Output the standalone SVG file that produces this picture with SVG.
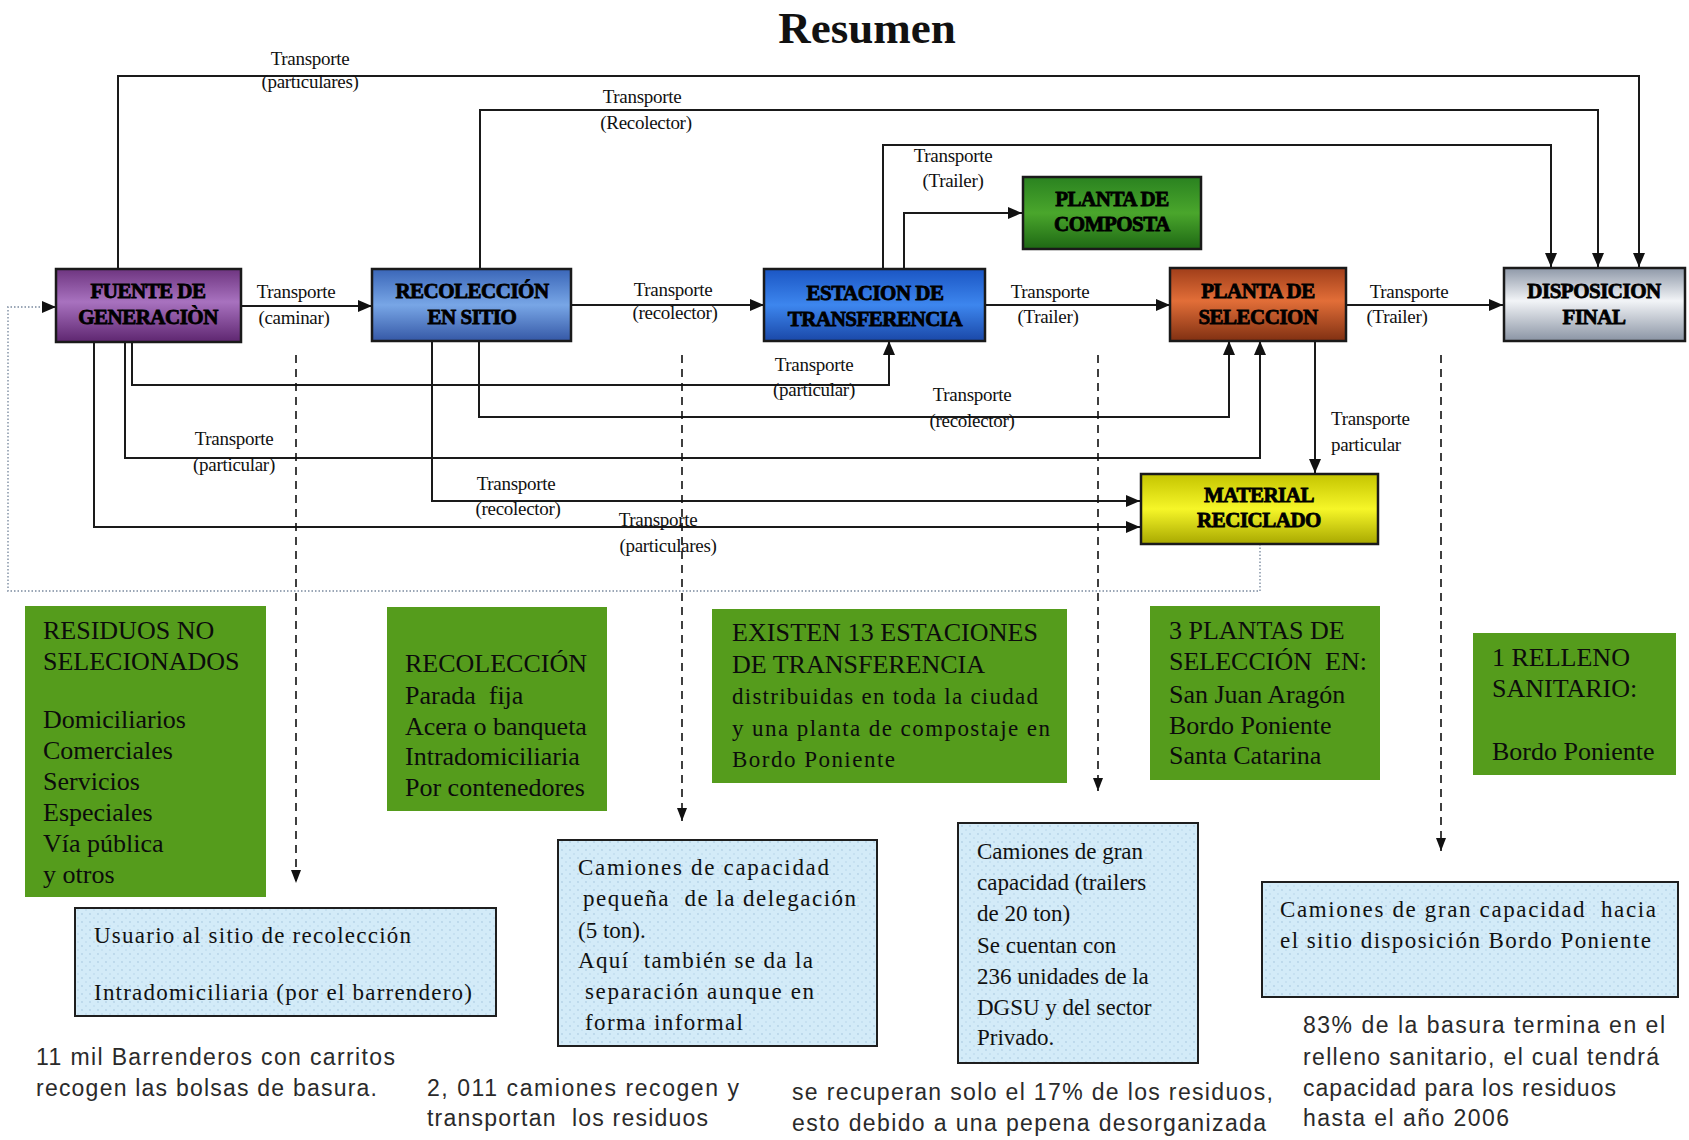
<svg xmlns="http://www.w3.org/2000/svg" width="1689" height="1140" viewBox="0 0 1689 1140" xml:space="preserve">
<style>
text{white-space:pre}
.title{font-family:"Liberation Serif",serif;font-weight:bold;font-size:45px;fill:#111;text-anchor:middle}
.node{stroke:#1a1a1a;stroke-width:2.5}
.nt{font-family:"Liberation Serif",serif;font-weight:bold;font-size:21px;fill:#000;stroke:#000;stroke-width:0.8;text-anchor:middle;letter-spacing:-0.5px}
.lbl{font-family:"Liberation Serif",serif;font-size:19px;fill:#111;text-anchor:middle;letter-spacing:-0.3px}
.lbll{font-family:"Liberation Serif",serif;font-size:19px;fill:#111;letter-spacing:-0.3px}
.conn{fill:none;stroke:#1a1a1a;stroke-width:2}
.dash{fill:none;stroke:#111;stroke-width:1.6;stroke-dasharray:8,6}
.dot{fill:none;stroke:#9aa6b6;stroke-width:1.8;stroke-dasharray:1.5,2}
.gbox{fill:#559c1c}
.gt{font-family:"Liberation Serif",serif;font-size:26px;fill:#0c0c0c}
.gts{font-family:"Liberation Serif",serif;font-size:23px;fill:#0c0c0c}
.bbox{fill:url(#bluedots);stroke:#1e1e1e;stroke-width:2}
.bt{font-family:"Liberation Serif",serif;font-size:23px;fill:#111}
.st{font-family:"Liberation Sans",Arial,sans-serif;font-size:23px;fill:#2a2a2a}
</style>
<defs>
<marker id="ah" viewBox="0 0 14 12" refX="14" refY="6" markerWidth="14" markerHeight="12" markerUnits="userSpaceOnUse" orient="auto"><path d="M0,0 L14,6 L0,12 z" fill="#111"/></marker>
<marker id="ahs" viewBox="0 0 13 10" refX="13" refY="5" markerWidth="13" markerHeight="10" markerUnits="userSpaceOnUse" orient="auto"><path d="M0,0 L13,5 L0,10 z" fill="#111"/></marker>
<linearGradient id="gPurple" x1="0" y1="0" x2="0" y2="1"><stop offset="0" stop-color="#6e3580"/><stop offset="0.45" stop-color="#a872bf"/><stop offset="1" stop-color="#5e2670"/></linearGradient>
<linearGradient id="gBlue1" x1="0" y1="0" x2="0" y2="1"><stop offset="0" stop-color="#3a66b8"/><stop offset="0.5" stop-color="#78a6e6"/><stop offset="1" stop-color="#3558a6"/></linearGradient>
<linearGradient id="gBlue2" x1="0" y1="0" x2="0" y2="1"><stop offset="0" stop-color="#1b56c4"/><stop offset="0.5" stop-color="#3d86ee"/><stop offset="1" stop-color="#1a48a8"/></linearGradient>
<linearGradient id="gGreen" x1="0" y1="0" x2="0" y2="1"><stop offset="0" stop-color="#2a8220"/><stop offset="0.5" stop-color="#4aa62c"/><stop offset="1" stop-color="#1e6814"/></linearGradient>
<linearGradient id="gOrange" x1="0" y1="0" x2="0" y2="1"><stop offset="0" stop-color="#a03e1a"/><stop offset="0.45" stop-color="#e26e38"/><stop offset="1" stop-color="#803012"/></linearGradient>
<linearGradient id="gGray" x1="0" y1="0" x2="0" y2="1"><stop offset="0" stop-color="#8e98a8"/><stop offset="0.45" stop-color="#f2f4f7"/><stop offset="1" stop-color="#8a94a4"/></linearGradient>
<linearGradient id="gYellow" x1="0" y1="0" x2="0" y2="1"><stop offset="0" stop-color="#c4c400"/><stop offset="0.5" stop-color="#f6f628"/><stop offset="1" stop-color="#a8a800"/></linearGradient>
<pattern id="bluedots" width="8" height="8" patternUnits="userSpaceOnUse"><rect width="8" height="8" fill="#d3ebf8"/><circle cx="2" cy="2" r="0.9" fill="#b4d2e6"/><circle cx="6" cy="6" r="0.9" fill="#c0dcee"/></pattern>
</defs>
<rect width="1689" height="1140" fill="#ffffff"/>
<text class="title" x="867" y="43">Resumen</text>

<g id="connectors">
<path class="dot" d="M1260,544 V591 H8 V307 H42"/>
<path d="M42,307 L56,307" fill="none" stroke="#111" stroke-width="1.5" marker-end="url(#ah)"/>
<path class="conn" d="M118,269 V76 H1639 V267" marker-end="url(#ah)"/>
<path class="conn" d="M480,269 V110 H1598 V267" marker-end="url(#ah)"/>
<path class="conn" d="M883,269 V145 H1551 V267" stroke="#3a4450" marker-end="url(#ah)"/>
<path class="conn" d="M904,269 V213 H1022" marker-end="url(#ah)"/>
<path class="conn" d="M241,306 H372" marker-end="url(#ah)"/>
<path class="conn" d="M571,305 H764" marker-end="url(#ah)"/>
<path class="conn" d="M985,305 H1170" marker-end="url(#ah)"/>
<path class="conn" d="M1346,305 H1503" marker-end="url(#ah)"/>
<path class="conn" d="M132,342 V385 H889 V341" marker-end="url(#ah)"/>
<path class="conn" d="M479,341 V417 H1229 V341" marker-end="url(#ah)"/>
<path class="conn" d="M125,342 V458 H1260 V341" marker-end="url(#ah)"/>
<path class="conn" d="M432,341 V501 H1140" marker-end="url(#ah)"/>
<path class="conn" d="M94,342 V527 H1140" marker-end="url(#ah)"/>
<path class="conn" d="M1315,341 V473" marker-end="url(#ah)"/>
<path class="dash" d="M296,355 V883" marker-end="url(#ahs)"/>
<path class="dash" d="M682,355 V821" marker-end="url(#ahs)"/>
<path class="dash" d="M1098,355 V791" marker-end="url(#ahs)"/>
<path class="dash" d="M1441,355 V851" marker-end="url(#ahs)"/>
<text class="lbl" x="310" y="65">Transporte</text><text class="lbl" x="310" y="88">(particulares)</text>
<text class="lbl" x="642" y="103">Transporte</text><text class="lbl" x="646" y="129">(Recolector)</text>
<text class="lbl" x="953" y="162">Transporte</text><text class="lbl" x="953" y="187">(Trailer)</text>
<text class="lbl" x="296" y="298">Transporte</text><text class="lbl" x="294" y="324">(caminar)</text>
<text class="lbl" x="673" y="296">Transporte</text><text class="lbl" x="675" y="319">(recolector)</text>
<text class="lbl" x="1050" y="298">Transporte</text><text class="lbl" x="1048" y="323">(Trailer)</text>
<text class="lbl" x="1409" y="298">Transporte</text><text class="lbl" x="1397" y="323">(Trailer)</text>
<text class="lbl" x="814" y="371">Transporte</text><text class="lbl" x="814" y="396">(particular)</text>
<text class="lbl" x="972" y="401">Transporte</text><text class="lbl" x="972" y="427">(recolector)</text>
<text class="lbl" x="234" y="445">Transporte</text><text class="lbl" x="234" y="471">(particular)</text>
<text class="lbl" x="516" y="490">Transporte</text><text class="lbl" x="518" y="515">(recolector)</text>
<text class="lbl" x="658" y="526">Transporte</text><text class="lbl" x="668" y="552">(particulares)</text>
<text class="lbll" x="1331" y="425">Transporte</text><text class="lbll" x="1331" y="451">particular</text>
</g>

<g id="fuente"><rect class="node" x="56" y="269" width="185" height="73" fill="url(#gPurple)"/><text class="nt" x="148" y="298">FUENTE DE</text><text class="nt" x="148" y="324">GENERACIÒN</text></g>
<g id="recoleccion"><rect class="node" x="372" y="269" width="199" height="72" fill="url(#gBlue1)"/><text class="nt" x="472" y="298">RECOLECCIÓN</text><text class="nt" x="472" y="324">EN SITIO</text></g>
<g id="estacion"><rect class="node" x="764" y="269" width="221" height="72" fill="url(#gBlue2)"/><text class="nt" x="875" y="300">ESTACION DE</text><text class="nt" x="875" y="326">TRANSFERENCIA</text></g>
<g id="composta"><rect class="node" x="1023" y="177" width="178" height="72" fill="url(#gGreen)"/><text class="nt" x="1112" y="206">PLANTA DE</text><text class="nt" x="1112" y="231">COMPOSTA</text></g>
<g id="seleccion"><rect class="node" x="1170" y="268" width="176" height="73" fill="url(#gOrange)"/><text class="nt" x="1258" y="298">PLANTA DE</text><text class="nt" x="1258" y="324">SELECCION</text></g>
<g id="disposicion"><rect class="node" x="1504" y="268" width="181" height="73" fill="url(#gGray)"/><text class="nt" x="1594" y="298">DISPOSICION</text><text class="nt" x="1594" y="324">FINAL</text></g>
<g id="material"><rect class="node" x="1141" y="474" width="237" height="70" fill="url(#gYellow)"/><text class="nt" x="1259" y="502">MATERIAL</text><text class="nt" x="1259" y="527">RECICLADO</text></g>

<g id="info-residuos"><rect class="gbox" x="25" y="606" width="241" height="291"/>
<text class="gt" x="43" y="639">RESIDUOS NO</text><text class="gt" x="43" y="670">SELECIONADOS</text>
<text class="gt" x="43" y="728">Domiciliarios</text><text class="gt" x="43" y="759">Comerciales</text><text class="gt" x="43" y="790">Servicios</text><text class="gt" x="43" y="821">Especiales</text><text class="gt" x="43" y="852">Vía pública</text><text class="gt" x="43" y="883">y otros</text></g>
<g id="info-recoleccion"><rect class="gbox" x="387" y="607" width="220" height="204"/>
<text class="gt" x="405" y="672">RECOLECCIÓN</text><text class="gt" x="405" y="704">Parada  fija</text><text class="gt" x="405" y="735">Acera o banqueta</text><text class="gt" x="405" y="765">Intradomiciliaria</text><text class="gt" x="405" y="796">Por contenedores</text></g>
<g id="info-estaciones"><rect class="gbox" x="712" y="609" width="355" height="174"/>
<text class="gt" x="732" y="641" textLength="306" lengthAdjust="spacing">EXISTEN 13 ESTACIONES</text><text class="gt" x="732" y="673">DE TRANSFERENCIA</text><text class="gts" x="732" y="704" textLength="306" lengthAdjust="spacing">distribuidas en toda la ciudad</text><text class="gts" x="732" y="736" textLength="318" lengthAdjust="spacing">y una planta de compostaje en</text><text class="gts" x="732" y="767" textLength="163" lengthAdjust="spacing">Bordo Poniente</text></g>
<g id="info-plantas"><rect class="gbox" x="1150" y="606" width="230" height="174"/>
<text class="gt" x="1169" y="639">3 PLANTAS DE</text><text class="gt" x="1169" y="670">SELECCIÓN  EN:</text><text class="gt" x="1169" y="703">San Juan Aragón</text><text class="gt" x="1169" y="734">Bordo Poniente</text><text class="gt" x="1169" y="764">Santa Catarina</text></g>
<g id="info-relleno"><rect class="gbox" x="1473" y="633" width="203" height="142"/>
<text class="gt" x="1492" y="666">1 RELLENO</text><text class="gt" x="1492" y="697">SANITARIO:</text><text class="gt" x="1492" y="760">Bordo Poniente</text></g>

<g id="note-usuario"><rect class="bbox" x="75" y="908" width="421" height="108"/>
<text class="bt" x="94" y="943" textLength="317" lengthAdjust="spacing">Usuario al sitio de recolección</text><text class="bt" x="94" y="1000" textLength="378" lengthAdjust="spacing">Intradomiciliaria (por el barrendero)</text></g>
<g id="note-pequena"><rect class="bbox" x="558" y="840" width="319" height="206"/>
<text class="bt" x="578" y="875" textLength="251" lengthAdjust="spacing">Camiones de capacidad</text><text class="bt" x="583" y="906" textLength="273" lengthAdjust="spacing">pequeña  de la delegación</text><text class="bt" x="578" y="938">(5 ton).</text><text class="bt" x="578" y="968" textLength="235" lengthAdjust="spacing">Aquí  también se da la</text><text class="bt" x="585" y="999" textLength="229" lengthAdjust="spacing">separación aunque en</text><text class="bt" x="585" y="1030" textLength="158" lengthAdjust="spacing">forma informal</text></g>
<g id="note-trailers"><rect class="bbox" x="958" y="823" width="240" height="240"/>
<text class="bt" x="977" y="859">Camiones de gran</text><text class="bt" x="977" y="890">capacidad (trailers</text><text class="bt" x="977" y="921">de 20 ton)</text><text class="bt" x="977" y="953">Se cuentan con</text><text class="bt" x="977" y="984">236 unidades de la</text><text class="bt" x="977" y="1015">DGSU y del sector</text><text class="bt" x="977" y="1045">Privado.</text></g>
<g id="note-hacia"><rect class="bbox" x="1262" y="882" width="416" height="115"/>
<text class="bt" x="1280" y="917" textLength="376" lengthAdjust="spacing">Camiones de gran capacidad  hacia</text><text class="bt" x="1280" y="948" textLength="371" lengthAdjust="spacing">el sitio disposición Bordo Poniente</text></g>

<g id="stats">
<text class="st" x="36" y="1065" textLength="359" lengthAdjust="spacing">11 mil Barrenderos con carritos</text>
<text class="st" x="36" y="1096" textLength="341" lengthAdjust="spacing">recogen las bolsas de basura.</text>
<text class="st" x="427" y="1096" textLength="312" lengthAdjust="spacing">2, 011 camiones recogen y</text>
<text class="st" x="427" y="1126" textLength="281" lengthAdjust="spacing">transportan  los residuos</text>
<text class="st" x="792" y="1100" textLength="481" lengthAdjust="spacing">se recuperan solo el 17% de los residuos,</text>
<text class="st" x="792" y="1131" textLength="474" lengthAdjust="spacing">esto debido a una pepena desorganizada</text>
<text class="st" x="1303" y="1033" textLength="362" lengthAdjust="spacing">83% de la basura termina en el</text>
<text class="st" x="1303" y="1065" textLength="356" lengthAdjust="spacing">relleno sanitario, el cual tendrá</text>
<text class="st" x="1303" y="1096" textLength="313" lengthAdjust="spacing">capacidad para los residuos</text>
<text class="st" x="1303" y="1126" textLength="206" lengthAdjust="spacing">hasta el año 2006</text>
</g>
</svg>
